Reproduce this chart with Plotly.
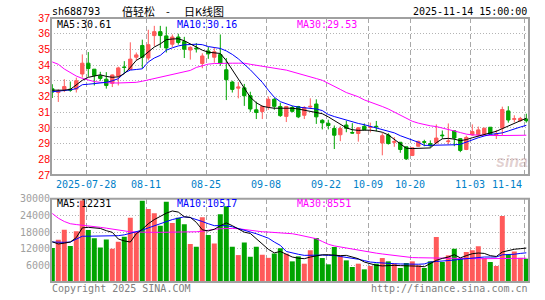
import plotly.graph_objects as go
import pandas as pd

# ---------------- data ----------------
dates = [d for d in pd.bdate_range("2025-07-18", "2025-11-14")
         if not (pd.Timestamp("2025-10-01") <= d <= pd.Timestamp("2025-10-08"))]
idx = list(range(len(dates)))

open_ = [32.49, 32.25, 32.44, 32.47, 32.47, 33.43, 34.12, 33.74, 33.32, 33.10,
         32.84, 33.30, 33.88, 33.72, 34.50, 35.25, 34.45, 35.88, 36.13, 35.86,
         35.33, 35.79, 35.50, 34.96, 35.08, 34.10, 34.90, 34.50, 34.67, 33.70,
         32.92, 32.53, 32.55, 32.05, 31.15, 31.04, 31.36, 31.82, 31.36, 30.73,
         31.30, 31.36, 30.80, 31.33, 31.52, 30.48, 30.29, 29.96, 29.56, 30.18,
         29.70, 29.64, 30.10, 30.02, 30.10, 29.04, 29.54, 29.08, 29.08, 28.79,
         28.24, 28.83, 29.12, 29.00, 29.04, 29.54, 29.12, 29.81, 29.31, 28.62,
         29.55, 29.56, 29.60, 30.04, 29.54, 29.98, 31.08, 30.54, 30.46, 30.56]
high = [32.78, 32.45, 33.10, 32.95, 33.20, 34.68, 34.83, 33.75, 33.57, 33.55,
        33.40, 33.90, 34.25, 35.45, 34.80, 35.62, 36.25, 36.50, 36.50, 36.45,
        35.95, 36.00, 35.80, 35.20, 35.40, 34.75, 35.15, 35.15, 35.95, 34.45,
        33.00, 32.92, 32.80, 32.30, 31.67, 31.42, 32.00, 31.90, 31.60, 31.40,
        31.40, 31.40, 31.38, 31.88, 31.82, 30.55, 30.52, 30.15, 30.10, 30.45,
        30.30, 30.05, 30.28, 30.33, 30.44, 29.66, 29.66, 29.41, 29.10, 28.80,
        28.75, 29.18, 29.24, 29.20, 30.22, 29.83, 30.28, 29.83, 29.35, 29.50,
        30.22, 30.08, 30.00, 30.05, 29.87, 31.35, 31.38, 30.80, 30.70, 30.90]
low = [31.90, 31.65, 32.28, 32.30, 32.25, 33.20, 33.25, 32.70, 33.00, 32.50,
       32.60, 32.70, 33.50, 33.70, 34.30, 33.80, 34.30, 35.20, 35.10, 34.80,
       35.15, 35.30, 34.45, 34.35, 34.80, 33.80, 34.40, 34.15, 33.95, 31.77,
       32.25, 31.88, 31.40, 31.02, 30.56, 30.56, 31.15, 31.15, 30.70, 30.37,
       30.98, 30.62, 30.56, 31.25, 30.25, 29.90, 29.90, 28.65, 29.15, 29.72,
       29.63, 29.12, 29.85, 29.71, 29.77, 28.25, 28.93, 28.79, 28.41, 27.95,
       28.20, 28.80, 28.83, 28.75, 29.00, 29.30, 28.95, 28.83, 28.45, 28.58,
       29.50, 29.45, 29.58, 29.60, 29.29, 29.50, 30.33, 30.35, 30.38, 30.33]
close = [32.28, 32.35, 32.63, 32.40, 33.00, 34.12, 33.78, 33.33, 33.15, 32.70,
         33.37, 33.82, 33.85, 34.38, 34.65, 34.50, 35.30, 36.13, 35.88, 35.09,
         35.79, 35.44, 35.01, 35.13, 35.04, 34.58, 34.72, 34.85, 34.10, 33.07,
         32.45, 32.60, 32.05, 31.20, 30.98, 31.36, 31.82, 31.37, 30.78, 31.36,
         31.05, 30.70, 31.30, 31.37, 30.70, 30.32, 30.15, 29.53, 29.96, 29.97,
         29.67, 30.00, 29.88, 30.05, 30.07, 29.50, 29.00, 29.12, 28.62, 28.03,
         28.73, 29.14, 29.08, 28.86, 29.35, 29.50, 29.16, 29.35, 28.56, 29.39,
         29.76, 29.87, 29.98, 29.62, 29.58, 31.17, 30.50, 30.58, 30.60, 30.45]

ma5 = [32.40, 32.40, 32.40, 32.45, 32.75, 33.03, 33.22, 33.32, 33.38, 33.28,
       33.22, 33.25, 33.45, 33.85, 34.30, 34.52, 34.85, 35.15, 35.35, 35.62,
       35.66, 35.68, 35.55, 35.35, 35.15, 34.95, 34.82, 34.78, 34.74, 34.28,
       33.70, 33.10, 32.55, 31.95, 31.60, 31.38, 31.30, 31.25, 31.25, 31.25,
       31.25, 31.20, 31.12, 31.05, 30.98, 30.90, 30.70, 30.45, 30.20, 30.00,
       29.88, 29.84, 29.85, 29.85, 29.80, 29.72, 29.55, 29.28, 28.98, 28.70,
       28.68, 28.68, 28.68, 28.72, 29.05, 29.30, 29.33, 29.28, 29.18, 29.25,
       29.37, 29.47, 29.55, 29.64, 29.78, 29.95, 30.10, 30.30, 30.45, 30.61]
ma10 = [32.30, 32.33, 32.38, 32.42, 32.50, 32.75, 32.78, 32.82, 32.86, 32.90,
        33.00, 33.13, 33.50, 33.68, 33.72, 33.76, 34.20, 34.45, 34.62, 34.95,
        35.10, 35.22, 35.29, 35.32, 35.33, 35.30, 35.18, 35.12, 35.06, 34.90,
        34.68, 34.40, 34.08, 33.70, 33.30, 32.90, 32.40, 31.95, 31.67, 31.52,
        31.40, 31.32, 31.27, 31.24, 31.20, 31.10, 30.85, 30.72, 30.60, 30.48,
        30.38, 30.28, 30.20, 30.10, 30.00, 29.90, 29.80, 29.68, 29.50, 29.37,
        29.26, 29.08, 28.88, 28.88, 28.90, 28.90, 28.90, 28.92, 28.95, 29.10,
        29.25, 29.37, 29.48, 29.58, 29.63, 29.68, 29.80, 29.95, 30.05, 30.16]
ma30 = [34.20, 34.05, 33.75, 33.50, 33.30, 33.15, 33.03, 32.95, 32.90, 32.87,
        32.86, 32.86, 32.86, 32.86, 32.90, 32.97, 33.05, 33.13, 33.25, 33.33,
        33.40, 33.46, 33.55, 33.66, 33.85, 33.95, 34.06, 34.10, 34.12, 34.12,
        34.12, 34.12, 34.12, 34.05, 33.98, 33.92, 33.85, 33.80, 33.74, 33.68,
        33.58, 33.46, 33.36, 33.25, 33.14, 33.03, 32.85, 32.63, 32.45, 32.25,
        32.12, 31.98, 31.78, 31.65, 31.50, 31.36, 31.20, 31.00, 30.80, 30.60,
        30.42, 30.30, 30.20, 30.13, 30.08, 30.00, 29.92, 29.80, 29.70, 29.60,
        29.55, 29.53, 29.52, 29.51, 29.51, 29.51, 29.52, 29.52, 29.53, 29.53]

volume = [12240, 15240, 18840, 12960, 18300, 29400, 18700, 15800, 12400, 15300,
          12000, 14500, 16300, 23200, 18000, 29300, 26300, 24800, 20300, 28900,
          21300, 23200, 20800, 13700, 12700, 23300, 16900, 13900, 24400, 27300,
          12700, 9700, 14200, 9100, 12700, 9800, 8700, 10300, 12200, 10200,
          7440, 9240, 6600, 11400, 15840, 8640, 6360, 12600, 9600, 7800,
          5400, 6600, 4560, 5760, 6600, 8640, 7440, 6600, 5040, 6840,
          7440, 6000, 5040, 7440, 16200, 7200, 9600, 12000, 8400, 10800,
          11400, 12840, 8640, 7200, 5760, 23760, 10000, 11000, 8700, 8400]
vma5 = [14500, 13700, 14000, 14400, 16000, 19500, 19700, 19500, 19300, 18500,
        17900, 15500, 14800, 14400, 17400, 19000, 21000, 22500, 23800, 24800,
        25600, 25200, 23500, 23300, 21500, 18800, 18400, 19000, 20300, 21300,
        20300, 19000, 17960, 17500, 15500, 13450, 11800, 10500, 11000, 10000,
        9000, 8600, 8400, 9000, 9400, 9800, 9840, 9600, 9500, 9600,
        9000, 8400, 7200, 6600, 6000, 5800, 6000, 6000, 5900, 5900,
        5800, 5700, 5500, 6500, 7800, 8500, 9000, 9840, 8700, 9500,
        10200, 10440, 10300, 9500, 9200, 10800, 11400, 11800, 12000, 12231]
vma10 = [14400, 14300, 14300, 14400, 15500, 16500, 16500, 16500, 16500, 16500,
         16500, 16700, 17000, 17500, 18100, 18700, 19500, 20300, 21000, 21800,
         22500, 23000, 23500, 23200, 22600, 21800, 21000, 20300, 20300, 20300,
         19900, 19300, 18800, 18100, 17400, 16600, 15800, 14400, 13200, 11000,
         10400, 10000, 9600, 9700, 9800, 9700, 9600, 9600, 9200, 8900,
         8640, 8200, 7700, 7200, 7000, 6800, 6700, 6600, 6500, 6400,
         6400, 6400, 6500, 7200, 7400, 7500, 7600, 7900, 8200, 8400,
         8800, 9000, 9000, 9000, 9000, 9800, 9800, 10000, 10300, 10517]
vma30 = [24700, 23000, 21800, 21000, 20700, 20500, 20200, 19900, 19700, 19400,
         19100, 18700, 18300, 18100, 18000, 17900, 17900, 17900, 17900, 17900,
         17900, 18000, 18000, 18000, 18100, 18300, 18700, 19000, 19200, 19300,
         19300, 19200, 18900, 18600, 18300, 18100, 18000, 17900, 17800, 17600,
         17400, 17000, 16600, 16200, 15600, 14600, 13600, 13000, 12600, 12300,
         12000, 11500, 11100, 10700, 10400, 10100, 9800, 9600, 9300, 9000,
         8800, 8750, 8700, 8600, 8500, 8450, 8400, 8400, 8400, 8400,
         8400, 8400, 8400, 8400, 8400, 8450, 8500, 8520, 8540, 8551]

tick_idx = [6, 16, 26, 36, 46, 53, 60, 70, 79]
tick_text = ["2025-07-28", "08-11", "08-25", "09-08", "09-22", "10-09", "10-20", "11-03", "11-14"]
price_ticks = list(range(27, 38))
vol_ticks = [6000, 12000, 18000, 24000, 30000]
vol_tick_text = ["6000", "12000", "18000", "24000", "30000"]

# ---------------- style ----------------
RED = "#ff5a5a"
GREEN = "#00a400"
MONO = "DejaVu Sans Mono"
W_PX, H_PX = 545, 300
L, R, T, B = 51, 529, 18, 286
PW, PH = R - L, B - T


def xp(X):
    return (X - L) / PW


def yp(Y):
    return (B - Y) / PH


price_dom = [yp(177.3), 1.0]
vol_dom = [0.0, yp(201.5)]
xr = [-(52.3 - L) / 6.0, 79 + (R - 526.3) / 6.0]
grid_x = [t - 0.33 for t in tick_idx]

fig = go.Figure()

fig.add_trace(go.Candlestick(
    x=idx, open=open_, high=high, low=low, close=close,
    increasing=dict(line=dict(color=RED, width=1), fillcolor=RED),
    decreasing=dict(line=dict(color=GREEN, width=1), fillcolor=GREEN),
    whiskerwidth=0, xaxis="x", yaxis="y", showlegend=False))

for arr, col in [(ma30, "#ff00ff"), (ma10, "#0000ff"), (ma5, "#000000")]:
    fig.add_trace(go.Scatter(x=idx, y=arr, mode="lines", line=dict(color=col, width=1),
                             xaxis="x", yaxis="y", showlegend=False, hoverinfo="skip"))

vcolors = [RED if c >= o else GREEN for o, c in zip(open_, close)]
fig.add_trace(go.Bar(x=idx, y=volume, marker=dict(color=vcolors, line=dict(width=0)),
                     xaxis="x2", yaxis="y2", showlegend=False))
for arr, col in [(vma30, "#ff00ff"), (vma10, "#0000ff"), (vma5, "#000000")]:
    fig.add_trace(go.Scatter(x=idx, y=arr, mode="lines", line=dict(color=col, width=1),
                             xaxis="x2", yaxis="y2", showlegend=False, hoverinfo="skip"))

gx = dict(showgrid=True, gridcolor="#a8a8a8", griddash="5px,3px", gridwidth=1,
          tickvals=grid_x, range=xr, zeroline=False, showline=False, ticks="",
          showticklabels=False)

fig.update_layout(
    width=W_PX, height=H_PX, paper_bgcolor="white", plot_bgcolor="white",
    margin=dict(l=L, r=W_PX - R, t=T, b=H_PX - B),
    bargap=0.17, boxgap=0.2,
    xaxis=dict(gx, domain=[0, 1], anchor="y", rangeslider=dict(visible=False)),
    yaxis=dict(domain=price_dom, range=[27, 37], tickvals=price_ticks,
               showgrid=True, gridcolor="#b4b4b4", griddash="1px,2px",
               zeroline=False, showline=False, ticks="",
               tickfont=dict(family="Liberation Sans", size=10.5, color="#ff0000")),
    xaxis2=dict(gx, domain=[0, 1], anchor="y2", matches="x"),
    yaxis2=dict(domain=vol_dom, range=[0, 30000], tickvals=vol_ticks, ticktext=vol_tick_text,
                showgrid=True, gridcolor="#b4b4b4", griddash="1px,2px",
                zeroline=False, showline=False, ticks="",
                tickfont=dict(family=MONO, size=10, color="#a0a0a0")),
    font=dict(family=MONO),
    hovermode=False,
)

# borders
for dom in (price_dom, vol_dom):
    fig.add_shape(type="rect", xref="paper", yref="paper", x0=0, x1=1, y0=dom[0], y1=dom[1],
                  line=dict(color="#a0a0a0", width=2), layer="above")

# date labels placed on the x axis (last one kept inside the frame)
for k, (ti, tt) in enumerate(zip(tick_idx, tick_text)):
    last = k == len(tick_idx) - 1
    fig.add_annotation(text=tt, x=R if last else ti - 0.33, y=yp(186.6),
                       xref="paper" if last else "x", yref="paper",
                       xanchor="right" if last else "center", yanchor="middle",
                       xshift=-5 if last else 0, showarrow=False,
                       font=dict(family=MONO, size=10, color="#0080c8"))
# fix paper x for last label
fig.layout.annotations[-1].x = xp(R)


def ann(text, X, Y, color="#000000", size=10, anchor="left", family=MONO):
    fig.add_annotation(text=text, x=xp(X), y=yp(Y), xref="paper", yref="paper",
                       xanchor=anchor, yanchor="middle", showarrow=False,
                       font=dict(family=family, size=size, color=color))


ann("sh688793", 49.5, 11)
ann("倍轻松", 120, 11, size=11, family="Noto Sans CJK SC")
ann("-", 168, 11, size=11, anchor="center", family="Noto Sans CJK SC")
ann("日K线图", 182, 11, size=11, family="Noto Sans CJK SC")
ann("2025-11-14 15:00:00", 528.5, 11, anchor="right")

ann("MA5:30.61", 54.5, 24.4)
ann("MA10:30.16", 174.5, 24.4, color="#0000ff")
ann("MA30:29.53", 294.5, 24.4, color="#ff00ff")

ann("MA5:12231", 54.5, 206.7)
ann("MA10:10517", 174.5, 206.7, color="#0000ff")
ann("MA30:8551", 294.5, 206.7, color="#ff00ff")

ann("Copyright 2025 SINA.COM", 49.5, 292.7, color="#808080")
ann("http://finance.sina.com.cn", 529.5, 292.7, color="#808080", anchor="right")

ann("<b><i>sina</i></b>", 512, 164, color="rgba(190,150,150,0.45)", size=16,
    anchor="center", family="Liberation Sans")

fig.write_html("out.html")
